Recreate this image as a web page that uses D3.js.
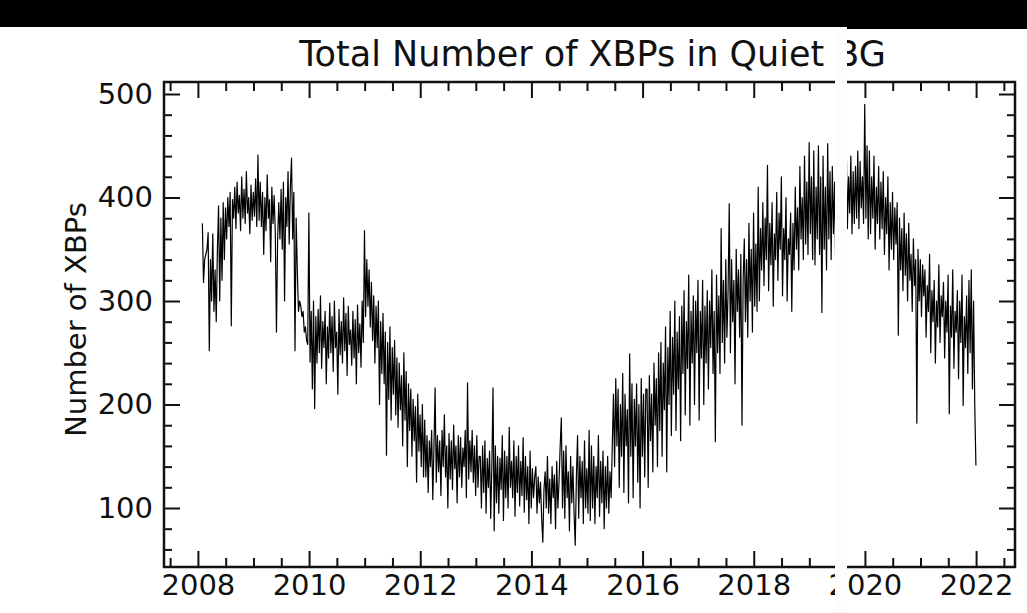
<!DOCTYPE html>
<html>
<head>
<meta charset="utf-8">
<script src="https://cdn.jsdelivr.net/npm/d3@7"></script>
<style>
  html, body { margin: 0; padding: 0; background: #fff; }
  svg { display: block; }
  text { font-family: "DejaVu Sans", sans-serif; fill: #111; }
</style>
</head>
<body>
<svg id="chart" width="1027" height="613"></svg>
<script>
// ---- data (48 samples per year) ----
const startYear = 2008.08;
const samplesPerYear = 48;
const v2008 = [375, 318, 340, 345, 350, 366, 252, 340, 300, 365, 290, 330, 280, 350, 392, 300, 380, 320, 395, 340, 390,
  360, 400, 372, 405, 276, 398, 380, 410, 370, 415, 385, 402, 368, 420, 380, 408, 375, 425, 385, 400, 365, 412, 378, 405, 382, 418, 372];
const v2009 = [441, 378, 415, 372, 405, 345, 400, 368, 422, 380, 398, 338, 410, 375, 402, 365, 270, 360,
  395, 360, 408, 350, 415, 300, 400, 372, 425, 355, 410, 438, 360, 405, 252, 380, 330, 290,
  300, 295, 285, 290, 270, 275, 262, 258, 385, 241, 290, 215];
const v2010 = [300, 196, 285, 240, 292, 250, 305, 235, 280, 255, 290, 220, 275, 245, 298, 250, 285, 232, 300, 255,
  270, 210, 292, 248, 280, 240, 303, 252, 288, 228, 295, 258, 272, 238, 290, 245, 282, 220, 296, 250, 278, 236, 300, 260,
  368, 285, 340, 295];
const v2011 = [330, 275, 318, 262, 305, 240, 295, 255, 300, 200, 280, 230, 288, 220, 270, 151, 260, 205, 275, 185, 255, 210, 262, 190,
  245, 178, 240, 195, 228, 160, 250, 185, 232, 140, 220, 175, 215, 150, 205, 165, 198, 125, 210, 155, 190, 140, 200, 130];
const v2012 = [185, 130, 170, 115, 165, 140, 175, 108, 160, 216, 125, 170, 135, 165, 112, 175, 140, 190, 130, 160, 100, 172, 128, 165,
  118, 180, 138, 160, 105, 170, 130, 168, 120, 158, 140, 175, 110, 221, 128, 165, 135, 175, 125, 160, 112, 170, 120, 150];
const v2013 = [150, 100, 160, 115, 165, 95, 148, 120, 155, 90, 140, 216, 78, 160, 105, 150, 95, 148, 118, 170, 88, 155, 110, 150,
  100, 178, 120, 145, 110, 165, 92, 150, 115, 160, 102, 145, 112, 168, 96, 150, 108, 140, 85, 155, 100, 138, 110, 130];
const v2014 = [140, 95, 130, 105, 125, 90, 67, 118, 135, 100, 150, 95, 128, 85, 140, 110, 132, 80, 145, 100, 125, 160, 187, 100,
  155, 90, 160, 110, 135, 78, 150, 105, 140, 95, 64, 130, 170, 90, 150, 110, 145, 85, 165, 100, 138, 95, 175, 88];
const v2015 = [160, 100, 150, 85, 140, 110, 170, 92, 145, 105, 155, 80, 140, 100, 150, 95, 135, 110, 160, 210, 140, 225, 160, 215,
  120, 200, 150, 230, 115, 210, 160, 195, 105, 249, 150, 220, 110, 205, 160, 220, 125, 200, 100, 225, 150, 210, 130, 215];
const v2016 = [215, 120, 228, 165, 210, 135, 240, 180, 225, 140, 250, 175, 260, 150, 240, 195, 275, 135, 255, 200, 290, 170, 265, 210,
  300, 175, 270, 215, 285, 165, 295, 230, 310, 190, 280, 235, 325, 180, 290, 240, 305, 200, 300, 250, 320, 185, 290, 245];
const v2017 = [320, 200, 295, 240, 310, 215, 300, 255, 330, 230, 290, 164, 325, 250, 305, 230, 370, 260, 320, 240, 340, 265, 310, 394,
  250, 340, 280, 320, 220, 350, 290, 330, 265, 345, 180, 320, 360, 280, 340, 265, 375, 300, 350, 270, 385, 295, 355, 290];
const v2018 = [410, 300, 370, 330, 395, 315, 380, 340, 431, 310, 375, 335, 395, 295, 365, 340, 405, 320, 385, 350, 420, 305, 370, 340,
  400, 300, 360, 345, 385, 290, 375, 330, 410, 350, 390, 330, 430, 360, 400, 340, 440, 355, 415, 345, 453, 365, 420, 340];
const v2019 = [445, 335, 410, 360, 450, 345, 420, 289, 440, 350, 410, 330, 452, 360, 425, 340, 430, 365, 415, 325, 445, 370, 420, 350,
  440, 360, 430, 380, 455, 370, 420, 385, 440, 365, 425, 375, 430, 380, 445, 370, 435, 390, 420, 375, 490, 380, 450, 360];
const v2020 = [445, 365, 420, 380, 440, 350, 410, 375, 430, 360, 415, 370, 425, 345, 400, 365, 420, 330, 395, 350, 405, 340, 390, 355,
  395, 267, 380, 330, 370, 310, 385, 325, 365, 300, 375, 320, 345, 290, 360, 315, 340, 182, 350, 300, 340, 285, 335, 305];
const v2021 = [330, 265, 315, 290, 345, 250, 310, 280, 320, 240, 300, 275, 335, 260, 305, 285, 318, 245, 300, 270, 325, 191, 295, 265,
  330, 235, 290, 270, 310, 225, 300, 260, 325, 199, 285, 255, 305, 230, 320, 250, 330, 215, 300, 200, 141];

const xMajorTicks = [2008, 2010, 2012, 2014, 2016, 2018, 2020, 2022];
const yMajorTicks = [100, 200, 300, 400, 500];
const titleText = "Total Number of XBPs in Quiet BG";
const yLabelText = "Number of XBPs";

// ---- build series ----
const values = [].concat(v2008, v2009, v2010, v2011, v2012, v2013, v2014, v2015, v2016, v2017, v2018, v2019, v2020, v2021);
const series = values.map((v, i) => ({ t: startYear + i / samplesPerYear, v }));

// ---- layout ----
const L = 164, R = 1015, T = 82, B = 567;
const x = d3.scaleLinear().domain([2007.39, 2022.70]).range([L, R]);
const y = d3.scaleLinear().domain([43, 511.6]).range([B, T]);

const svg = d3.select("#chart");
svg.append("rect").attr("width", 1027).attr("height", 613).attr("fill", "#fff");

svg.append("defs").append("clipPath").attr("id", "plotclip")
  .append("rect").attr("x", L).attr("y", T).attr("width", R - L).attr("height", B - T);

// data line
svg.append("path")
  .datum(series)
  .attr("clip-path", "url(#plotclip)")
  .attr("fill", "none")
  .attr("stroke", "#000")
  .attr("stroke-width", 1.2)
  .attr("stroke-linejoin", "round")
  .attr("d", d3.line().x(d => x(d.t)).y(d => y(d.v)));

// minor tick values
const xMinor = d3.range(2007.5, 2022.71, 0.5).filter(t => !xMajorTicks.includes(t));
const yMinor = d3.range(60, 511, 20).filter(v => !yMajorTicks.includes(v));

function styleAxis(g) {
  g.select(".domain").remove();
  g.selectAll(".tick line").attr("stroke", "#111").attr("stroke-width", 2);
  g.selectAll(".tick text").attr("font-size", 29).attr("fill", "#111")
    .attr("font-family", "DejaVu Sans, sans-serif");
}

// bottom
svg.append("g").attr("transform", `translate(0,${B})`)
  .call(d3.axisBottom(x).tickValues(xMajorTicks).tickFormat(d3.format("d")).tickSizeInner(-16).tickSizeOuter(0).tickPadding(7))
  .call(styleAxis);
svg.append("g").attr("transform", `translate(0,${B})`)
  .call(d3.axisBottom(x).tickValues(xMinor).tickFormat("").tickSizeInner(-9).tickSizeOuter(0))
  .call(styleAxis);
// top
svg.append("g").attr("transform", `translate(0,${T})`)
  .call(d3.axisTop(x).tickValues(xMajorTicks).tickFormat("").tickSizeInner(-16).tickSizeOuter(0))
  .call(styleAxis);
svg.append("g").attr("transform", `translate(0,${T})`)
  .call(d3.axisTop(x).tickValues(xMinor).tickFormat("").tickSizeInner(-9).tickSizeOuter(0))
  .call(styleAxis);
// left
svg.append("g").attr("transform", `translate(${L},0)`)
  .call(d3.axisLeft(y).tickValues(yMajorTicks).tickFormat(d3.format("d")).tickSizeInner(-16).tickSizeOuter(0).tickPadding(11))
  .call(styleAxis);
svg.append("g").attr("transform", `translate(${L},0)`)
  .call(d3.axisLeft(y).tickValues(yMinor).tickFormat("").tickSizeInner(-8).tickSizeOuter(0))
  .call(styleAxis);
// right
svg.append("g").attr("transform", `translate(${R},0)`)
  .call(d3.axisRight(y).tickValues(yMajorTicks).tickFormat("").tickSizeInner(-16).tickSizeOuter(0))
  .call(styleAxis);
svg.append("g").attr("transform", `translate(${R},0)`)
  .call(d3.axisRight(y).tickValues(yMinor).tickFormat("").tickSizeInner(-8).tickSizeOuter(0))
  .call(styleAxis);

// frame
svg.append("rect").attr("x", L).attr("y", T).attr("width", R - L).attr("height", B - T)
  .attr("fill", "none").attr("stroke", "#111").attr("stroke-width", 2.5);

// title
svg.append("text").attr("x", (L + R) / 2 + 3).attr("y", 66)
  .attr("text-anchor", "middle").attr("font-size", 35).text(titleText);

// y label
svg.append("text")
  .attr("transform", `translate(86,${(T + B) / 2 - 5}) rotate(-90)`)
  .attr("text-anchor", "middle").attr("font-size", 29).text(yLabelText);

// occluding elements from the photographed slide
svg.append("rect").attr("x", 835).attr("y", 26).attr("width", 12).attr("height", 613 - 26).attr("fill", "#fefcfc");
svg.append("rect").attr("x", 0).attr("y", 0).attr("width", 1027).attr("height", 27).attr("fill", "#000");
svg.append("rect").attr("x", 847).attr("y", 0).attr("width", 180).attr("height", 29).attr("fill", "#000");
</script>
</body>
</html>
